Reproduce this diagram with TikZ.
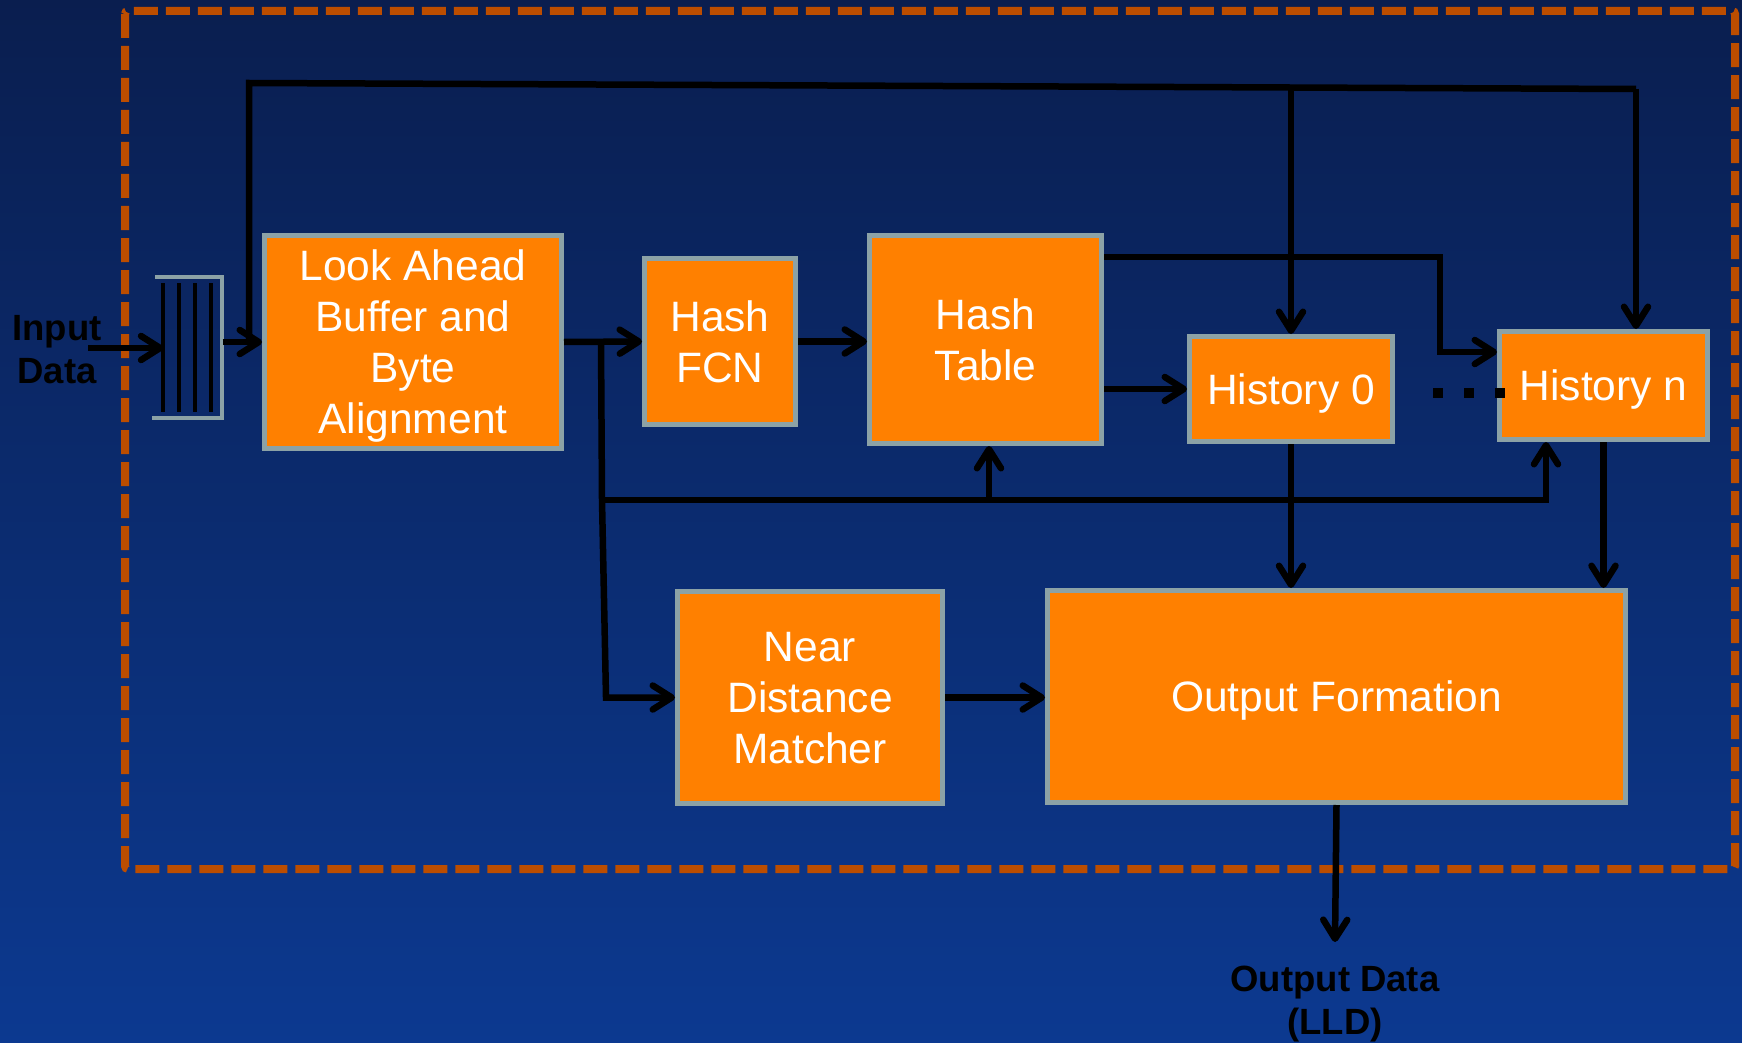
\documentclass[tikz,border=0pt]{standalone}
\usepackage{fontspec}
\setmainfont{Liberation Sans}
\usetikzlibrary{arrows.meta}

\definecolor{bgtop}{HTML}{0A1E4F}
\definecolor{bgbot}{HTML}{0C3990}
\definecolor{blkfill}{HTML}{FF8000}
\definecolor{blkedge}{HTML}{8CA2A6}
\definecolor{frameclr}{HTML}{BC4D00}

\tikzset{
  blk/.style={draw=blkedge, fill=blkfill, line width=5pt, inner sep=0pt,
    text=white, align=center, text depth=0pt, font=\fontsize{42.5}{51}\selectfont},
  wire/.style={draw=black, line width=6.5pt},
  arr/.style={wire, -{Straight Barb[length=19pt,width=24pt,round]}},
  lbl/.style={text=black, align=center, font=\fontsize{36.5}{43}\selectfont\bfseries}
}

\begin{document}
\begin{tikzpicture}[x=1pt,y=-1pt]
  % page and background
  \useasboundingbox (0,0) rectangle (1742,1043);
  \shade[top color=bgtop, bottom color=bgbot] (0,0) rectangle (1742,1043);

  % dashed enclosure of the compressor core
  \draw[frameclr, line width=8pt, dash pattern=on 24pt off 8pt, rounded corners=3pt]
    (125,11) rectangle (1735,869);

  % input buffer
  \node[minimum width=67pt, minimum height=141pt, inner sep=0pt] (buf) at (189,347.5) {};
  \draw[blkedge, line width=4pt] (152,418) -- (222,418) -- (222,277) -- (155,277);
  \foreach \lx in {163,179,195,211}
    \draw[black, line width=3.5pt] (\lx,283) -- (\lx,412);

  % processing blocks
  \node[blk, minimum width=297pt, minimum height=213pt] (la) at (413,342)
    {Look Ahead\\Buffer and\\Byte\\Alignment};
  \node[blk, minimum width=151pt, minimum height=166pt] (hf) at (720,341.5)
    {Hash\\FCN};
  \node[blk, minimum width=232pt, minimum height=208pt] (ht) at (985.5,339.5)
    {Hash\\Table};
  \node[blk, minimum width=203pt, minimum height=105pt] (h0) at (1291,389)
    {History 0};
  \node[blk, minimum width=208pt, minimum height=108pt] (hn) at (1603.5,385.5)
    {History n};
  \node[blk, minimum width=265pt, minimum height=212pt] (nd) at (810,697.5)
    {Near\\Distance\\Matcher};
  \node[blk, minimum width=578pt, minimum height=212pt] (of) at (1336.5,696.5)
    {Output Formation};

  % ellipsis between history banks
  \draw[black, line width=10pt, dash pattern=on 10pt off 21pt] (1433,393) -- (1507,393);

  % external labels
  \node[lbl] (inlbl) at (57,350) {Input\\Data};
  \node[lbl] (outlbl) at (1335,1004) {Output Data\\(LLD)};

  % junction points
  \coordinate (inp) at (88,348);
  \coordinate (topL) at (249,83);
  \coordinate (topR) at (1636,89);
  \coordinate (tap) at (1291,87.5);
  \coordinate (sp) at (601,341);
  \coordinate (bus) at (602,500);
  \coordinate (busR) at (1546,500);
  \coordinate (busM) at (989,500);
  \coordinate (ndin) at (606,697.5);
  \coordinate (htR1) at (1440,257);
  \coordinate (htR2) at (1440,352);
  \coordinate (outEnd) at (1335,942);

  % input path
  \draw[arr] (inp) -- ([xshift=8pt]buf.west |- inp);
  \draw[arr] (buf.east |- la.west) -- (la.west);

  % feedback bus over the top
  \draw[wire] (la.west -| topL) -- (topL) -- (topR);
  \draw[arr] (topR) -- (hn.north -| topR);
  \draw[arr] (tap) -- (h0.north);

  % main datapath
  \draw[arr] (la.east) -- (hf.west);
  \draw[arr] (hf.east) -- (ht.west |- hf.east);
  \draw[arr] (ht.east |- h0.west) -- (h0.west);
  \draw[arr] (ht.east |- htR1) -- (htR1) -- (htR2) -- (hn.west |- htR2);

  % look-ahead branch
  \draw[wire] (sp) -- (bus);
  \draw[arr] (bus) -- (ndin) -- (nd.west);
  \draw[arr] (bus) -- (busR) -- (hn.south -| busR);
  \draw[arr] (busM) -- (ht.south -| busM);

  % into output formation
  \draw[arr] (h0.south) -- (h0.south |- of.north);
  \draw[arr] (hn.south) -- (hn.south |- of.north);
  \draw[arr] (nd.east) -- (of.west |- nd.east);
  \draw[arr] (of.south) -- (outEnd);
\end{tikzpicture}
\end{document}
